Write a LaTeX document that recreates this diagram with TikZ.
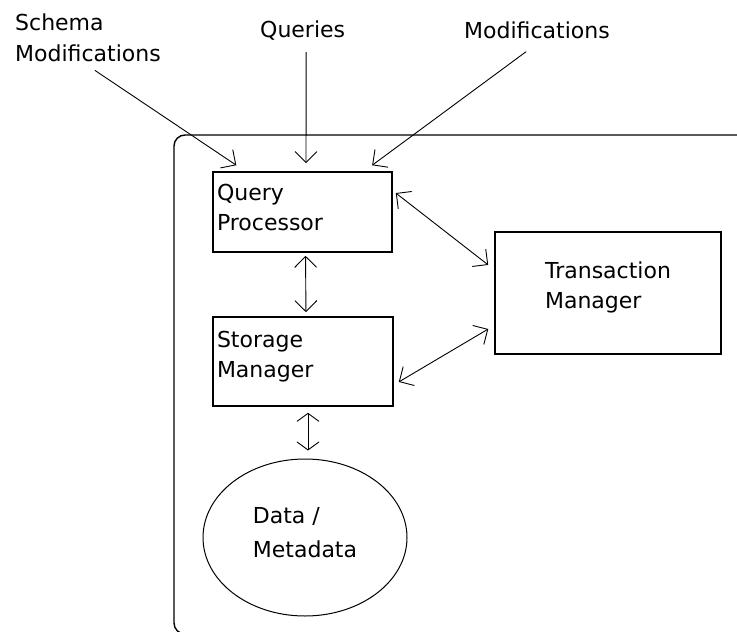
\documentclass[tikz,border=0pt]{standalone}
\usepackage{fontspec}
\setmainfont{DejaVu Sans}
\usetikzlibrary{arrows.meta,shapes.geometric}

\begin{document}
\begin{tikzpicture}[x=1pt,y=-1pt,
  >={Straight Barb[length=11pt,width=22pt]},
  every node/.style={font=\fontsize{22}{30}\selectfont},
  lbl/.style={anchor=north west,inner sep=0pt,align=left,text height=16pt},
  box/.style={draw,line width=1.6pt,inner sep=4pt,align=left,text height=16pt,text depth=45pt},
  link/.style={line width=0.9pt},
  widetips/.style={{Straight Barb[length=8pt,width=22pt]}-{Straight Barb[length=8pt,width=22pt]}}]
\useasboundingbox (0,0) rectangle (737,632);
\clip (0,0) rectangle (737,632);

% system boundary
\draw[line width=1.4pt,rounded corners=11pt] (745,135) -- (174,135) -- (174,634) -- (260,634);

\node[lbl,text height=47pt,font=\fontsize{22}{31}\selectfont] (schema) at (15,14) {Schema\\Modifications};
\node[lbl] (queries) at (260,21) {Queries};
\node[lbl] (mods) at (464,22) {Modifications};

\node[box,minimum width=179pt,minimum height=80pt,text width=171pt,text depth=39pt] (qp) at (302.5,212) {Query\\Processor};
\node[box,minimum width=180pt,minimum height=89pt,text width=172pt] (sm) at (303,361.5) {Storage\\Manager};
\node[box,minimum width=226pt,minimum height=122pt,text height=46pt,text depth=15pt] (tm) at (608,293) {Transaction\\Manager};
\node[ellipse,draw,line width=1pt,minimum width=204pt,minimum height=157pt,align=left,
  text height=50pt,text depth=11pt,font=\fontsize{22}{34}\selectfont] (data) at (305,537.5) {Data /\\Metadata};

% inputs
\draw[link,->,shorten <=15.6pt,shorten >=10.7pt] ([xshift=-6pt]schema.south) -- ([xshift=33pt]qp.north west);
\draw[link,->,shorten <=12pt,shorten >=8pt] ([xshift=3.5pt]queries.south) -- ([xshift=3.5pt]qp.north);
\draw[link,->,shorten <=21.8pt,shorten >=10pt] ([xshift=6.7pt]mods.south) -- ([xshift=-28.7pt]qp.north east);

% internal links
\draw[link,<->,shorten <=3pt,shorten >=4pt] ([xshift=3pt]qp.south) -- ([xshift=3pt]sm.north);
\draw[link,widetips,shorten <=6pt,shorten >=8pt] ([xshift=5pt]sm.south) -- ([xshift=3pt]data.north);
\draw[link,<->,shorten <=3.8pt,shorten >=7.6pt] ([yshift=21.3pt]qp.east) -- ([yshift=23.4pt]tm.west);
\draw[link,<->,shorten <=5.8pt,shorten >=6.9pt] ([yshift=-23.4pt]sm.east) -- ([yshift=-32.5pt]tm.west);
\end{tikzpicture}
\end{document}
